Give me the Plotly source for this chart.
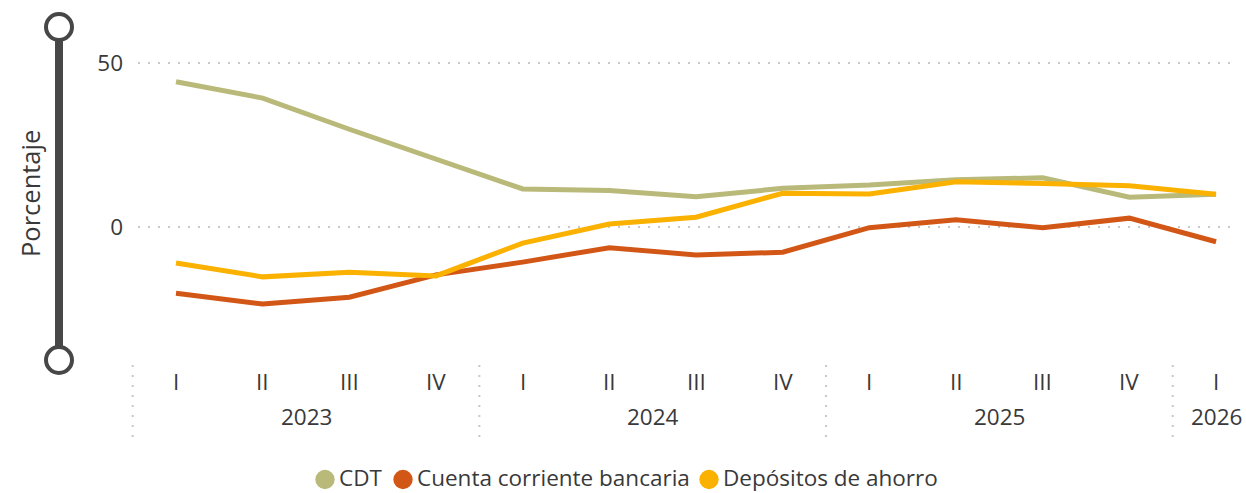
import plotly.graph_objects as go

# ---------------- data ----------------
quarters = ["I", "II", "III", "IV", "I", "II", "III", "IV", "I", "II", "III", "IV", "I"]
years = ["2023", "2023", "2023", "2023", "2024", "2024", "2024", "2024",
         "2025", "2025", "2025", "2025", "2026"]
cdt = [44.3, 39.3, 29.8, 20.7, 11.6, 11.1, 9.2, 11.8, 12.8, 14.4, 15.0, 9.1, 10.0]
cuenta = [-20.2, -23.5, -21.4, -14.6, -10.7, -6.3, -8.5, -7.7, -0.2, 2.2, -0.2, 2.7, -4.5]
depositos = [-11.0, -15.2, -13.8, -14.9, -4.9, 0.9, 3.0, 10.3, 10.1, 13.8, 13.3, 12.6, 10.0]
series_names = ["CDT", "Cuenta corriente bancaria", "Depósitos de ahorro"]
series_colors = ["#B9B97A", "#D25716", "#FBB100"]
y_ticks = [0, 50]
y_title = "Porcentaje"

# ---------------- layout geometry ----------------
W, H = 1246, 493
L, R, T, B = 138, 14, 40, 138
plot_w = W - L - R
plot_h = H - T - B
x_range = [-0.4385, 12.184]
y_range = [-39.02, 57.01]
FONT = "Open Sans"
TXT = "#393939"
FS = 22.5


def px_x(p):
    return (p - L) / plot_w


def px_y(p):
    return (H - B - p) / plot_h


def paper_x(i):
    return (i - x_range[0]) / (x_range[1] - x_range[0])


xs = list(range(len(quarters)))

fig = go.Figure()
for name, vals, col in zip(series_names, [cdt, cuenta, depositos], series_colors):
    fig.add_trace(go.Scatter(x=xs, y=vals, mode="lines", name=name,
                             line=dict(color=col, width=5), showlegend=False,
                             hoverinfo="skip"))

shapes = []
annotations = []

# quarter labels
for i, q in enumerate(quarters):
    annotations.append(dict(x=i, y=0, xref="x", yref="paper", text=q, showarrow=False,
                            yanchor="middle", yshift=-26,
                            font=dict(family=FONT, size=FS, color=TXT)))
# year groups
groups = []
for i, yv in enumerate(years):
    if groups and groups[-1][0] == yv:
        groups[-1][2] = i
    else:
        groups.append([yv, i, i])
for yv, a, b in groups:
    annotations.append(dict(x=(a + b) / 2, y=0, xref="x", yref="paper", text=yv,
                            showarrow=False, yanchor="middle", yshift=-61,
                            font=dict(family=FONT, size=FS, color=TXT)))
# separators at group boundaries
bounds = [groups[0][1] - 0.5] + [g[2] + 0.5 for g in groups[:-1]]
for bnd in bounds:
    shapes.append(dict(type="line", xref="paper", yref="paper",
                       x0=paper_x(bnd), x1=paper_x(bnd),
                       ysizemode="pixel", yanchor=0, y0=-10, y1=-82,
                       line=dict(color="#C8C8C8", width=2, dash="2px,8px")))

# y title
annotations.append(dict(x=px_x(30), y=px_y(194), xref="paper", yref="paper", text=y_title,
                        showarrow=False, textangle=-90, xanchor="center",
                        yanchor="middle",
                        font=dict(family=FONT, size=25.5, color=TXT)))

# slider decoration on the left
sx = px_x(59)
top_y = px_y(27)
bot_y = px_y(360)
shapes.append(dict(type="line", xref="paper", yref="paper", x0=sx, x1=sx,
                   y0=top_y, y1=bot_y, line=dict(color="#474747", width=8)))
for yy in (top_y, bot_y):
    shapes.append(dict(type="circle", xref="paper", yref="paper",
                       xsizemode="pixel", ysizemode="pixel",
                       xanchor=sx, yanchor=yy, x0=-13, x1=13, y0=-13, y1=13,
                       fillcolor="white", line=dict(color="#474747", width=4)))

# legend (drawn manually: circle + label)
legend_circle_px = [325, 403, 709]
circle_y = px_y(479.5)
text_y = px_y(477)
for name, col, cx in zip(series_names, series_colors, legend_circle_px):
    shapes.append(dict(type="circle", xref="paper", yref="paper",
                       xsizemode="pixel", ysizemode="pixel",
                       xanchor=px_x(cx), yanchor=circle_y,
                       x0=-9.7, x1=9.7, y0=-9.7, y1=9.7,
                       fillcolor=col, line=dict(width=0)))
    annotations.append(dict(x=px_x(cx + 13), y=text_y, xref="paper", yref="paper",
                            text=name, showarrow=False, xanchor="left",
                            yanchor="middle", borderpad=0,
                            font=dict(family=FONT, size=FS, color=TXT)))

fig.update_layout(
    width=W, height=H,
    margin=dict(l=L, r=R, t=T, b=B, pad=0, autoexpand=False),
    paper_bgcolor="white", plot_bgcolor="white",
    showlegend=False,
    font=dict(family=FONT, size=FS, color=TXT),
    xaxis=dict(range=x_range, showgrid=False, zeroline=False, showticklabels=False,
               showline=False, fixedrange=True),
    yaxis=dict(range=y_range, tickvals=y_ticks, showgrid=True, gridcolor="#C8C8C8",
               gridwidth=2, griddash="2px,8px", zeroline=False, showline=False,
               ticks="", ticklabelstandoff=14, fixedrange=True,
               tickfont=dict(family=FONT, size=FS, color=TXT)),
    shapes=shapes, annotations=annotations,
)

fig.write_html("out.html", config={"displayModeBar": False},
               post_script="document.body.style.margin='0';document.body.style.overflow='hidden';")
